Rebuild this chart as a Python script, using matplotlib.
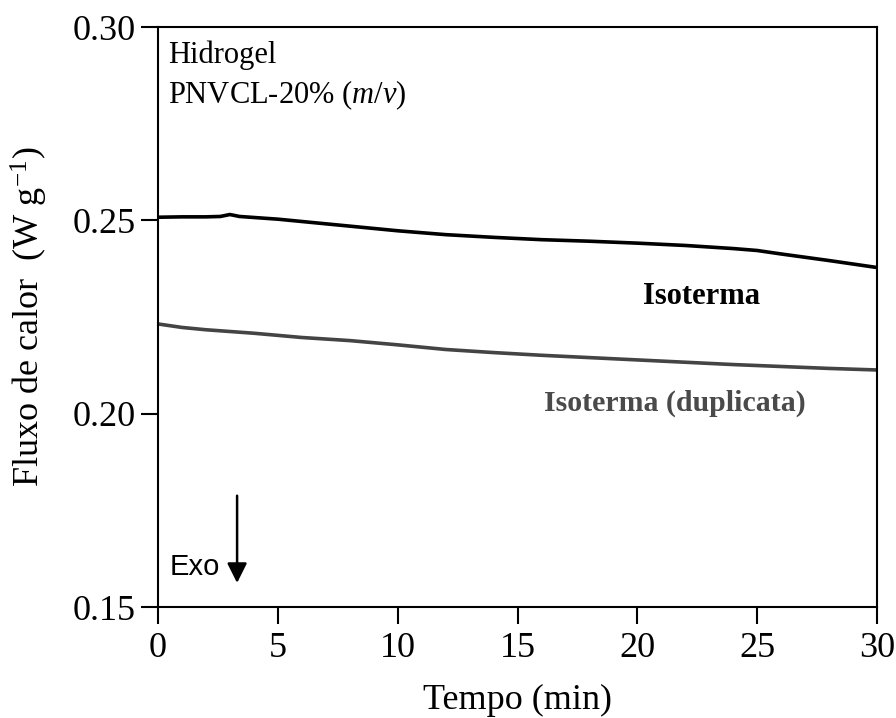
import matplotlib.pyplot as plt

# isothermal DSC runs, heat flow vs time
tempo = [0, 1, 2, 2.6, 3.0, 3.4, 5, 6, 8, 10, 12, 14, 16, 18, 20, 22, 24, 25, 26, 28, 30]
isoterma = [0.2508, 0.2509, 0.2509, 0.2510, 0.2515, 0.2510, 0.2503, 0.2497, 0.2485,
            0.2473, 0.2463, 0.2456, 0.2450, 0.2446, 0.2441, 0.2435, 0.2427, 0.2422,
            0.2413, 0.2396, 0.2378]

tempo_dup = [0, 1, 2, 4, 6, 8, 10, 12, 14, 16, 18, 20, 22, 24, 26, 28, 30]
isoterma_dup = [0.2232, 0.2223, 0.2217, 0.2208, 0.2197, 0.2189, 0.2178, 0.2166,
                0.2158, 0.2151, 0.2145, 0.2139, 0.2133, 0.2127, 0.2122, 0.2117, 0.2113]

plt.rcParams["font.family"] = "Liberation Serif"
plt.rcParams["mathtext.fontset"] = "custom"
plt.rcParams["mathtext.rm"] = "Liberation Serif"
plt.rcParams["mathtext.it"] = "Liberation Serif:italic"

fig = plt.figure(figsize=(8.96, 7.18), dpi=100)
ax = fig.add_axes([158 / 896, 1 - 607 / 718, 719 / 896, 580 / 718])

ax.plot(tempo, isoterma, color="black", lw=2.6)
ax.plot(tempo_dup, isoterma_dup, color="#444444", lw=2.6)

ax.set_xlim(0, 30)
ax.set_ylim(0.15, 0.30)
ax.set_xticks([0, 5, 10, 15, 20, 25, 30])
ax.set_yticks([0.15, 0.20, 0.25, 0.30])
ax.set_yticklabels(["0.15", "0.20", "0.25", "0.30"])
ax.tick_params(direction="out", length=12, width=1.5, labelsize=26, pad=4)
ax.tick_params(axis="x", pad=6)
for s in ax.spines.values():
    s.set_linewidth(1.5)

ax.set_xlabel("Tempo (min)", fontsize=26, labelpad=14)
ax.set_ylabel(r"Fluxo de calor  (W g$^{\mathregular{-1}}$)", fontsize=26, labelpad=16)

ax.text(0.42, 0.2928, "Hidrogel", fontsize=22, va="center")
ax.text(0.42, 0.2824, r"PNVCL-20% ($m$/$v$)", fontsize=22, va="center")

ax.text(22.7, 0.2302, "Isoterma", fontsize=22, fontweight="bold", ha="center", va="center")
ax.text(21.57, 0.2028, "Isoterma (duplicata)", fontsize=21.5, fontweight="bold",
        ha="center", va="center", color="#4a4a4a")

ax.annotate("", xy=(3.3, 0.1555), xytext=(3.3, 0.1795),
            arrowprops=dict(arrowstyle="-|>", color="black", lw=1.8, mutation_scale=30))
ax.text(2.6, 0.1603, "Exo", fontsize=21, family="Liberation Sans", ha="right", va="center")

fig.savefig("out.png", dpi=100)
